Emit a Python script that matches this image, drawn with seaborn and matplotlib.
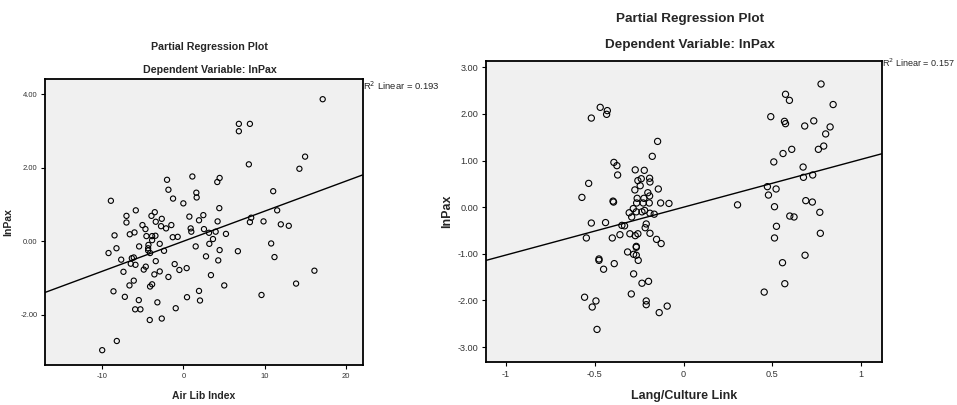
import numpy as np
import pandas as pd
import matplotlib
matplotlib.use("Agg")
import matplotlib.pyplot as plt
import seaborn as sns

sns.set_style("white")
plt.rcParams["font.family"] = ["Liberation Sans", "DejaVu Sans"]

# Air Lib Index (partial residuals) vs lnPax
air_lib = [17.17, 6.84, 8.20, 6.84, 15.0, 8.07, 14.30, 1.11, 4.47, 4.18,
           -2.01, -1.84, 1.60, 1.64, 11.07, -1.27, -8.93, 0.0, -5.86, 4.43,
           11.56, -3.52, -7.01, -3.93, 0.74, 2.46, 8.36, -2.66, 1.93, 8.20,
           9.88, 4.22, -3.40, -7.01, -5.04, -2.75, -1.48, -2.13, 12.01, 12.99,
           -4.67, 0.90, 2.54, 0.98, 3.98, -6.02, -6.60, 3.16, 5.25, -8.48,
           -4.55, -3.85, -3.44, -1.31, -0.70, -3.85, 3.65, 10.82, -2.91, 3.20,
           -4.30, -5.45, -8.24, 1.52, -4.34, -4.34, -2.38, 4.47, 6.72, -4.10,
           -9.22, 2.79, 11.23, -6.35, -6.11, -7.66, 4.30, -3.40, -6.48, -5.90,
           -1.07, -4.63, -4.88, 0.41, -0.49, -7.38, -2.91, -3.57, 3.40, -1.84,
           16.15, -6.11, 13.89, -6.64, -3.85, -4.10, 5.04, -8.61, 1.93, -7.21,
           0.45, 9.63, -5.49, -3.20, 2.05, -5.94, -5.29, -0.94, -4.14, -2.66,
           -8.20, -10.0]
lnpax_a = [3.86, 3.19, 3.19, 2.99, 2.30, 2.09, 1.97, 1.76, 1.72, 1.61,
           1.67, 1.40, 1.32, 1.19, 1.36, 1.16, 1.10, 1.03, 0.84, 0.90,
           0.84, 0.79, 0.69, 0.69, 0.67, 0.71, 0.64, 0.61, 0.57, 0.52,
           0.54, 0.54, 0.53, 0.51, 0.44, 0.41, 0.44, 0.35, 0.46, 0.42,
           0.33, 0.35, 0.33, 0.26, 0.26, 0.24, 0.19, 0.23, 0.20, 0.16,
           0.14, 0.14, 0.15, 0.11, 0.12, 0.03, 0.06, -0.06, -0.07, -0.07,
           -0.10, -0.14, -0.19, -0.14, -0.19, -0.25, -0.26, -0.24, -0.27, -0.32,
           -0.32, -0.41, -0.43, -0.46, -0.44, -0.50, -0.52, -0.54, -0.61, -0.64,
           -0.62, -0.69, -0.77, -0.73, -0.78, -0.83, -0.82, -0.90, -0.92, -0.97,
           -0.80, -1.07, -1.15, -1.20, -1.17, -1.23, -1.20, -1.36, -1.35, -1.51,
           -1.52, -1.46, -1.60, -1.66, -1.61, -1.85, -1.85, -1.82, -2.14, -2.10,
           -2.71, -2.96]

# Lang/Culture Link (partial residuals) vs lnPax
lang_link = [0.774, 0.574, 0.596, 0.842, -0.469, -0.429, -0.433, -0.519, 0.491, 0.568,
             0.574, 0.733, 0.682, 0.825, 0.800, -0.146, 0.789, 0.759, 0.609, 0.560,
             -0.176, 0.508, -0.392, -0.375, 0.673, -0.272, -0.221, -0.371, 0.727, 0.675,
             -0.191, -0.238, -0.257, -0.189, -0.534, -0.244, 0.472, -0.142, 0.521, -0.274,
             -0.201, 0.478, -0.191, -0.572, -0.261, -0.223, -0.397, -0.394, 0.688, 0.725,
             -0.264, -0.227, -0.193, -0.129, -0.082, 0.304, 0.512, -0.283, -0.219, -0.266,
             -0.234, -0.306, -0.189, -0.165, 0.767, -0.292, 0.598, 0.622, -0.519, -0.439,
             -0.210, -0.347, -0.332, -0.216, 0.523, -0.547, -0.401, -0.358, -0.302, -0.272,
             -0.257, -0.189, 0.770, 0.512, -0.152, -0.126, -0.266, -0.266, -0.315, -0.281,
             -0.266, -0.255, -0.476, -0.476, 0.684, -0.450, -0.390, 0.557, -0.281, -0.234,
             -0.197, 0.570, -0.294, 0.454, -0.557, -0.493, -0.514, -0.210, -0.210, -0.092,
             -0.137, -0.487]
lnpax_b = [2.64, 2.42, 2.29, 2.20, 2.14, 2.07, 1.99, 1.91, 1.94, 1.84,
           1.79, 1.85, 1.74, 1.72, 1.57, 1.41, 1.31, 1.24, 1.24, 1.15,
           1.09, 0.97, 0.96, 0.89, 0.86, 0.80, 0.79, 0.69, 0.69, 0.64,
           0.62, 0.61, 0.57, 0.54, 0.51, 0.46, 0.44, 0.39, 0.39, 0.37,
           0.31, 0.26, 0.24, 0.21, 0.19, 0.19, 0.13, 0.11, 0.14, 0.11,
           0.09, 0.09, 0.09, 0.09, 0.08, 0.05, 0.01, -0.03, -0.07, -0.10,
           -0.10, -0.12, -0.13, -0.15, -0.11, -0.21, -0.19, -0.21, -0.34, -0.33,
           -0.36, -0.39, -0.40, -0.44, -0.41, -0.66, -0.66, -0.59, -0.57, -0.61,
           -0.57, -0.56, -0.56, -0.66, -0.69, -0.78, -0.84, -0.86, -0.96, -1.01,
           -1.03, -1.14, -1.11, -1.14, -1.03, -1.33, -1.21, -1.19, -1.43, -1.63,
           -1.59, -1.64, -1.86, -1.82, -1.93, -2.01, -2.14, -2.01, -2.09, -2.12,
           -2.26, -2.62]

# fit lines (through origin)
fit_a = (0.0, 0.0816)
fit_b = (0.0, 1.026)
r2_a = "0.193"
r2_b = "0.157"

xticks_a = [-10, 0, 10, 20]
xtlab_a = ["-10", "0", "10", "20"]
yticks_a = [-2, 0, 2, 4]
xticks_b = [-1, -0.5, 0, 0.5, 1]
xtlab_b = ["-1", "-0.5", "0", "0.5", "1"]
yticks_b = [-3, -2, -1, 0, 1, 2, 3]

df_a = pd.DataFrame({"Air Lib Index": air_lib, "lnPax": lnpax_a})
df_b = pd.DataFrame({"Lang/Culture Link": lang_link, "lnPax": lnpax_b})

fig = plt.figure(figsize=(9.57, 4.05), dpi=100)
ax1 = fig.add_axes([0.047, 0.099, 0.332, 0.706])
ax2 = fig.add_axes([0.508, 0.106, 0.4138, 0.743])


def draw(ax, df, xcol, fit, xlim, ylim, xticks, xtlab, yticks,
         fs_tick, fs_lab, r2, r2_y, r2_fs, ypad, msize):
    ax.set_facecolor("#f0f0f0")
    sns.scatterplot(data=df, x=xcol, y="lnPax", ax=ax, s=msize, marker="o",
                    facecolor="none", edgecolor="black", linewidth=0.8)
    ax.axline((0, fit[0]), slope=fit[1], color="black", lw=1.0)
    ax.set_xlim(xlim)
    ax.set_ylim(ylim)
    ax.set_xticks(xticks)
    ax.set_xticklabels(xtlab)
    ax.set_yticks(yticks)
    ax.set_yticklabels(["%.2f" % v for v in yticks])
    ax.tick_params(axis="both", direction="out", length=3, width=0.8,
                   labelsize=fs_tick, labelcolor="#333333", color="black",
                   bottom=True, left=True, pad=2.5)
    for sp in ax.spines.values():
        sp.set_color("black")
        sp.set_linewidth(1.3)
    ax.set_xlabel(xcol, fontsize=fs_lab, fontweight="bold", labelpad=8)
    ax.set_ylabel("lnPax", fontsize=fs_lab, fontweight="bold", labelpad=ypad)
    ax.text(1.0, r2_y, "R$^2$ Linear = " + r2, transform=ax.transAxes,
            fontsize=r2_fs, ha="left", va="center")


draw(ax1, df_a, "Air Lib Index", fit_a, (-17.05, 22.1), (-3.36, 4.41),
     xticks_a, xtlab_a, yticks_a, 5.5, 7.5, r2_a, 0.975, 6.8, 5, 14)
draw(ax2, df_b, "Lang/Culture Link", fit_b, (-1.111, 1.118), (-3.32, 3.13),
     xticks_b, xtlab_b, yticks_b, 6.6, 9.0, r2_b, 0.993, 6.5, 3, 20)

fig.text(0.219, 0.884, "Partial Regression Plot", ha="center", va="center",
         fontsize=7.7, fontweight="bold")
fig.text(0.219, 0.827, "Dependent Variable: lnPax", ha="center", va="center",
         fontsize=7.7, fontweight="bold")
fig.text(0.721, 0.953, "Partial Regression Plot", ha="center", va="center",
         fontsize=9.7, fontweight="bold")
fig.text(0.721, 0.889, "Dependent Variable: lnPax", ha="center", va="center",
         fontsize=9.7, fontweight="bold")

fig.savefig("out.png", dpi=100)
